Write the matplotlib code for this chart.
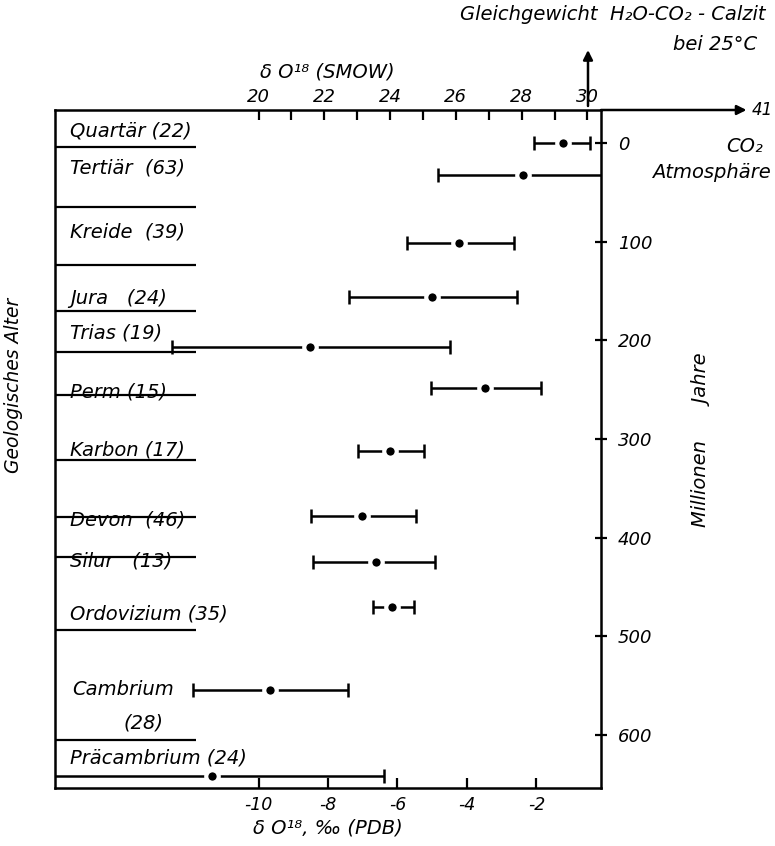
import matplotlib
matplotlib.use('Agg')
import matplotlib.pyplot as plt

plt.rcParams['font.family'] = 'DejaVu Sans'
plt.rcParams['font.style'] = 'italic'
plt.rcParams['axes.unicode_minus'] = False

# geological periods, number of samples, label position (Mio. Jahre)
periods = ['Quartär', 'Tertiär ', 'Kreide ', 'Jura  ', 'Trias', 'Perm', 'Karbon',
           'Devon ', 'Silur  ', 'Ordovizium', 'Cambrium', 'Präcambrium']
counts = [22, 63, 39, 24, 19, 15, 17, 46, 13, 35, 28, 24]
label_age = [-12, 25, 90, 158, 193, 252, 311, 382, 424, 477, 554, 623]
# separator lines between the periods (Mio. Jahre)
boundaries = [4, 65, 124, 170, 212, 255, 321, 379, 419, 493, 605]

# d18O (PDB) range and mean per period
bar_age = [0, 32, 101, 156, 207, 248, 312, 378, 425, 470, 554, 641]
d18_min = [-2.07, -4.83, -5.73, -7.40, -12.49, -5.04, -7.14, -8.49, -8.43, -6.71, -11.88, -15.86]
d18_mean = [-1.24, -2.39, -4.23, -5.01, -8.52, -3.48, -6.22, -7.02, -6.62, -6.16, -9.67, -11.34]
d18_max = [-0.46, -0.14, -2.65, -2.56, -4.49, -1.87, -5.24, -5.47, -4.92, -5.53, -7.42, -6.39]

pdb_ticks = [-10, -8, -6, -4, -2]
smow_ticks = [20, 22, 24, 26, 28, 30]
age_ticks = [0, 100, 200, 300, 400, 500, 600]

W, H = 775, 846
XMIN, XMAX = -15.86, -0.14
YTOP, YBOT = -33.4, 653.5
FS = 14


def fx(px):
    return px / W


def fy(py):
    return 1 - py / H


def to_smow(x):
    return 1.056 * x + 30.56


def to_pdb(x):
    return (x - 30.56) / 1.056


fig = plt.figure(figsize=(W / 100, H / 100), dpi=100)
ax = fig.add_axes([fx(55), fy(788), fx(546), 678 / H])
ax.set_xlim(XMIN, XMAX)
ax.set_ylim(YBOT, YTOP)

for s in ax.spines.values():
    s.set_linewidth(1.8)
ax.spines['top'].set_visible(False)

# bottom axis (PDB)
ax.set_xticks(pdb_ticks)
ax.tick_params(axis='x', direction='in', length=7, width=1.6, labelsize=12.5, pad=6)
ax.set_xlabel('δ O¹⁸, ‰ (PDB)', fontsize=FS, labelpad=3)

# right axis (age)
ax.yaxis.tick_right()
ax.set_yticks(age_ticks)
ax.tick_params(axis='y', direction='inout', length=8, width=1.6, labelsize=13, pad=8)

# top axis (SMOW)
sec = ax.secondary_xaxis('top', functions=(to_smow, to_pdb))
sec.set_xticks(smow_ticks)
sec.set_xticks(range(21, 30, 2), minor=True)
sec.tick_params(axis='x', which='both', direction='in', length=7, width=1.6, labelsize=13, pad=3)
sec.spines['top'].set_linewidth(1.8)

# extension of the top axis to the CO2 value
ax.annotate('', xy=(4.05, YTOP), xytext=(XMAX, YTOP), xycoords='data',
            annotation_clip=False,
            arrowprops=dict(arrowstyle='-|>', lw=1.8, color='k', mutation_scale=14,
                            shrinkA=0, shrinkB=0))

# period separators and labels
for b in boundaries:
    ax.plot([XMIN, -11.8], [b, b], color='k', lw=1.6, solid_capstyle='butt')
for name, n, a in zip(periods, counts, label_age):
    if name == 'Cambrium':
        ax.text(-15.36, a, name, fontsize=FS, va='center', ha='left')
        ax.text(-13.9, a + 34, f'({n})', fontsize=FS, va='center', ha='left')
    else:
        ax.text(-15.42, a, f'{name} ({n})', fontsize=FS, va='center', ha='left')

# range bars with mean
for a, lo, m, hi in zip(bar_age, d18_min, d18_mean, d18_max):
    ax.plot([lo, hi], [a, a], color='k', lw=1.8, solid_capstyle='butt', clip_on=False)
    for e in (lo, hi):
        if XMIN + 0.05 < e < XMAX - 0.05:
            ax.plot([e], [a], marker='|', color='k', ms=10, mew=1.8)
    ax.plot([m], [a], marker='o', color='k', ms=9, mec='white', mew=3, zorder=3)

# annotations outside the axes
fig.text(fx(766), fy(15), 'Gleichgewicht  H₂O-CO₂ - Calzit', fontsize=FS,
         ha='right', va='center')
fig.text(fx(757), fy(45), 'bei 25°C', fontsize=FS, ha='right', va='center')
ax.annotate('', xy=(fx(588), fy(50)), xytext=(fx(588), fy(106)),
            xycoords='figure fraction',
            arrowprops=dict(arrowstyle='-|>', lw=1.8, color='k', mutation_scale=14,
                            shrinkA=0, shrinkB=0))
fig.text(fx(327), fy(72), 'δ O¹⁸ (SMOW)', fontsize=FS, ha='center', va='center')
fig.text(fx(752), fy(110), '41', fontsize=12, ha='left', va='center')
fig.text(fx(745), fy(147), 'CO₂', fontsize=FS, ha='center', va='center')
fig.text(fx(711), fy(173), 'Atmosphäre', fontsize=FS, ha='center', va='center')
fig.text(fx(700), fy(440), 'Millionen      Jahre', fontsize=FS, rotation=90,
         ha='center', va='center')
fig.text(fx(14), fy(385), 'Geologisches Alter', fontsize=13.5, rotation=90,
         ha='center', va='center')

fig.savefig('out.png', dpi=100)
